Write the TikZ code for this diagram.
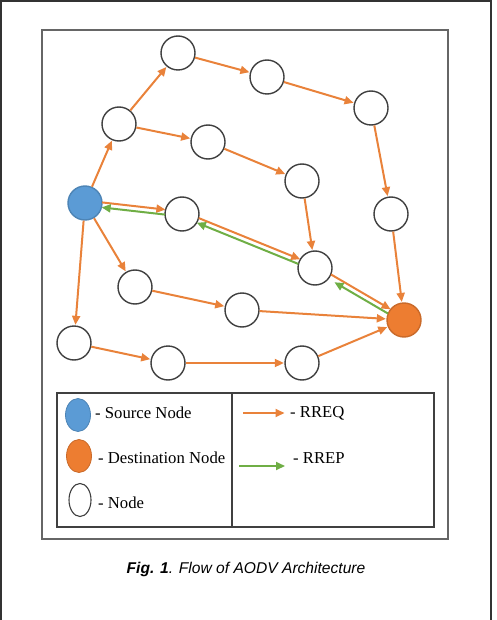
\documentclass[tikz,border=0pt]{standalone}
\usepackage{fontspec}
\setmainfont{Liberation Serif}
\newfontfamily\capfont{Liberation Sans}
\usetikzlibrary{arrows.meta,calc,shapes.geometric}
\definecolor{reqc}{HTML}{E9823A}
\definecolor{repc}{HTML}{6FAE45}
\definecolor{srcc}{HTML}{5B9BD5}
\definecolor{dstc}{HTML}{ED7D31}
\definecolor{ringc}{HTML}{3F3F3F}
\begin{document}
\begin{tikzpicture}[x=1pt,y=-1pt,
  nd/.style={circle,draw=ringc,line width=1.4pt,minimum size=34pt,inner sep=0pt,fill=white},
  src/.style={nd,fill=srcc,draw=srcc!85!black},
  dst/.style={nd,fill=dstc,draw=dstc!85!black},
  tip/.style={-{Triangle[length=9pt,width=8pt]}},
  rreq/.style={draw=reqc,line width=2pt,tip,shorten >=0.5pt},
  rrep/.style={draw=repc,line width=2pt,tip},
  legtext/.style={anchor=west,inner sep=0pt,font=\fontsize{16.7}{19}\selectfont},
  frame/.style={draw=black!60,line width=1.6pt},
  legnode/.style={ellipse,line width=0.8pt,minimum width=25pt,minimum height=33pt,inner sep=0pt},
]
\useasboundingbox (0,0) rectangle (496,620);
% page border
\draw[black!80,line width=1.5pt] (1,620) -- (1,1) -- (491,1) -- (491,620);
% outer frame
\draw[frame] (42,30) rectangle (448,539);
% nodes
\node[nd] (A) at (178,53) {};
\node[nd] (B) at (267,77) {};
\node[nd] (C) at (371,108) {};
\node[nd] (D) at (119,124) {};
\node[nd] (E) at (208,142) {};
\node[nd] (F) at (302,181) {};
\node[nd] (G) at (391,214) {};
\node[src] (S) at (85,203) {};
\node[nd] (H) at (182,214) {};
\node[nd] (I) at (315,268) {};
\node[nd] (J) at (135,287) {};
\node[nd] (K) at (242,310) {};
\node[dst] (T) at (404,320) {};
\node[nd] (L) at (74,343) {};
\node[nd] (M) at (168,363) {};
\node[nd] (N) at (302,363) {};
% RREQ edges
\draw[rreq] (S) -- (D);
\draw[rreq] (D) -- (A);
\draw[rreq] (A) -- (B);
\draw[rreq] (B) -- (C);
\draw[rreq] (C) -- (G);
\draw[rreq] (G) -- (T);
\draw[rreq] (D) -- (E);
\draw[rreq] (E) -- (F);
\draw[rreq] (F) -- (I);
\draw[rreq] (S) -- (J);
\draw[rreq] (J) -- (K);
\draw[rreq] (K) -- (T);
\draw[rreq] (S) -- (L);
\draw[rreq] (L) -- (M);
\draw[rreq] (M) -- (N);
\draw[rreq] (N) -- (T);
% parallel RREQ / RREP pairs
\draw[rreq,shorten <=17pt,shorten >=17pt] ($(S)!2.5pt!90:(H)$) -- ($(H)!2.5pt!-90:(S)$);
\draw[rrep,shorten <=17pt,shorten >=17pt] ($(H)!2.5pt!90:(S)$) -- ($(S)!2.5pt!-90:(H)$);
\draw[rreq,shorten <=17pt,shorten >=17pt] ($(H)!2.5pt!90:(I)$) -- ($(I)!2.5pt!-90:(H)$);
\draw[rrep,shorten <=17pt,shorten >=17pt] ($(I)!2.5pt!90:(H)$) -- ($(H)!2.5pt!-90:(I)$);
\draw[rreq,shorten <=17pt,shorten >=17pt] ($(I)!2.5pt!90:(T)$) -- ($(T)!2.5pt!-90:(I)$);
\draw[rrep,shorten <=17pt,shorten >=24pt] ($(T)!2.5pt!90:(I)$) -- ($(I)!2.5pt!-90:(T)$);
% legend
\draw[draw=black!75,line width=1.2pt] (57,393) rectangle (434,527);
\coordinate (divtop) at (232,393);
\coordinate (divbot) at (232,527);
\draw[draw=black!75,line width=1.2pt] (divtop) -- (divbot);
\node[legnode,fill=srcc,draw=srcc!85!black] (ls) at (78,415) {};
\node[legnode,fill=dstc,draw=dstc!85!black] (ld) at (79,456) {};
\node[legnode,fill=white,draw=ringc,line width=1.1pt,minimum width=22pt] (ln) at (80,500) {};
\node[legtext] (ts) at (95,413) {- Source Node};
\node[legtext] (td) at (98,458) {- Destination Node};
\node[legtext] (tn) at (98,503) {- Node};
\coordinate (q1) at (243,413);
\coordinate (q2) at (285,413);
\draw[rreq] (q1) -- (q2);
\node[legtext] (tq) at (290,413) {- RREQ};
\coordinate (p1) at (239,466);
\coordinate (p2) at (285,466);
\draw[rrep] (p1) -- (p2);
\node[legtext] (tp) at (293,458) {- RREP};
% caption
\node[font=\capfont\itshape\fontsize{15.6}{18}\selectfont] (cap) at (246,569) {\textbf{Fig. 1}. Flow of AODV Architecture};
\end{tikzpicture}
\end{document}
